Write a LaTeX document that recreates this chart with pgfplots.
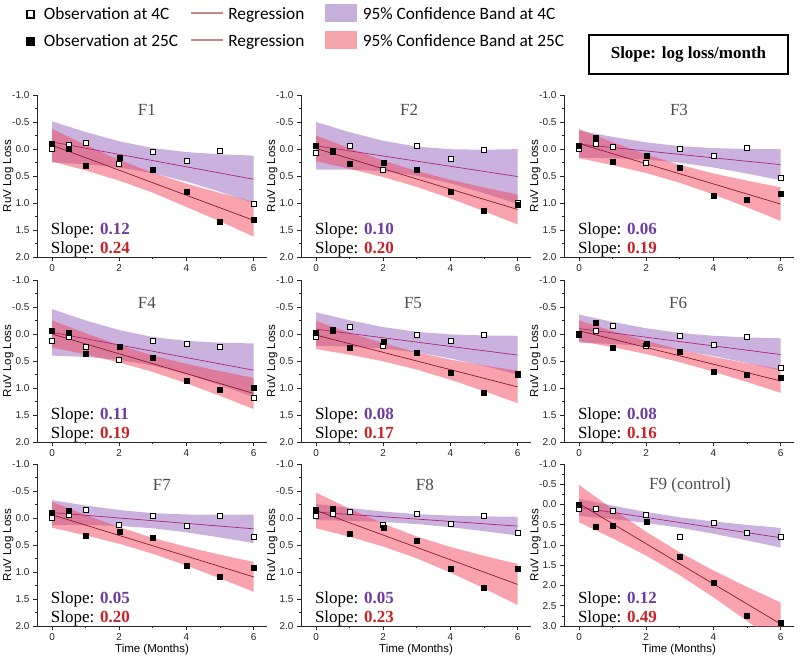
\documentclass[border=0pt]{standalone}
\usepackage{pgfplots}
\pgfplotsset{compat=1.18}
\usepackage{fontspec}
\setmainfont{Liberation Sans}
\newfontfamily\tnr{Liberation Serif}
\newfontfamily\leg{Carlito}
\definecolor{cband4}{RGB}{150,100,190}
\definecolor{cband25}{RGB}{240,70,90}
\definecolor{lband4}{RGB}{198,176,218}
\definecolor{lband25}{RGB}{246,164,172}
\definecolor{cline4}{RGB}{170,40,120}
\definecolor{cline25}{RGB}{140,25,40}
\definecolor{cs4}{RGB}{110,60,160}
\definecolor{cs25}{RGB}{200,35,40}
\definecolor{clegline}{RGB}{200,135,135}

\pgfplotsset{
panel/.style={
  scale only axis, width=230pt, height=162pt, anchor=center,
  xmin=-0.45, xmax=6.4, ymin=-1, ymax=2, y dir=reverse,
  axis x line*=bottom, axis y line*=left,
  xticklabel pos=upper,
  axis line style={-, black!85, line width=0.8pt},
  xtick={0,2,4,6}, minor xtick={1,3,5},
  ytick={-1,-0.5,0,0.5,1,1.5,2}, minor y tick num=1,
  tick align=outside, major tick length=4pt, minor tick length=2pt,
  tick style={black!85, line width=0.7pt},
  xticklabel={\pgfmathprintnumber[assume math mode=true]{\tick}},
  yticklabel={\pgfmathprintnumber[fixed,fixed zerofill,precision=1,assume math mode=true]{\tick}},
  ticklabel style={font=\fontsize{10}{12}\selectfont, text=black!85},
  ylabel={RuV Log Loss},
  ylabel style={at={(axis description cs:-0.124,0.5)}, anchor=center, font=\fontsize{11.5}{13}\selectfont},
  xlabel style={at={(axis description cs:0.5,-0.148)}, anchor=center, font=\fontsize{11.5}{13}\selectfont},
},
legsq4/.style={legend image code/.code={\path[draw=none,fill=none] (0pt,0pt) -- (18pt,0pt); \draw[draw=black, line width=1.9pt, fill=white] (0.95pt,-3.55pt) rectangle (8.05pt,3.55pt);}},
legsq25/.style={legend image code/.code={\path[draw=none,fill=none] (0pt,0pt) -- (18pt,0pt); \fill[fill=black, draw=none] (0pt,-4.5pt) rectangle (9pt,4.5pt);}},
legline/.style={legend image code/.code={\path[draw=none,fill=none] (0pt,0pt) -- (50.3pt,0pt); \path[fill=clegline, draw=none] (13.3pt,0.35pt) rectangle (45pt,1.65pt);}},
legrect4/.style={legend image code/.code={\path[draw=none,fill=none] (0pt,0pt) -- (58.5pt,0pt); \path[fill=lband4, draw=none] (20.5pt,-8pt) rectangle (52.5pt,10pt);}},
legrect25/.style={legend image code/.code={\path[draw=none,fill=none] (0pt,0pt) -- (58.5pt,0pt); \path[fill=lband25, draw=none] (20.5pt,-8pt) rectangle (52.5pt,10pt);}},
}

\newcommand{\panelplots}[6]{%
\addplot[fill=cband4, fill opacity=0.5, draw=none, forget plot] coordinates {#1};
\addplot[fill=cband25, fill opacity=0.5, draw=none, forget plot] coordinates {#2};
\addplot[cline4, line width=0.7pt, forget plot] coordinates {#3};
\addplot[cline25, line width=0.7pt, forget plot] coordinates {#4};
\addplot[only marks, mark=square*, mark size=2.5pt, mark options={fill=white, draw=black, line width=0.8pt}, forget plot] coordinates {#5};
\addplot[only marks, mark=square*, mark size=2.5pt, black, forget plot] coordinates {#6};
}
\newcommand{\slopes}[2]{%
\node[anchor=west, inner sep=0pt, font=\tnr\fontsize{17}{20}\selectfont] at (axis description cs:0.06,0.165) {Slope: \textbf{\color{cs4}#1}};
\node[anchor=west, inner sep=0pt, font=\tnr\fontsize{17}{20}\selectfont] at (axis description cs:0.06,0.045) {Slope: \textbf{\color{cs25}#2}};
}
\newcommand{\ptitle}[3]{%
\node[inner sep=0pt, text=black!70, font=\tnr\fontsize{17}{20}\selectfont] at (axis description cs:#1,#2) {#3};
}

\begin{document}
\begin{tikzpicture}
\path[use as bounding box] (0pt,0pt) rectangle (800pt,-658pt);
\coordinate (legpos) at (-11pt,91pt);

% F1
\begin{axis}[panel, at={(152pt,-176pt)},
  legend columns=3, legend cell align=left,
  legend style={at={(legpos)}, anchor=north west, draw=none, fill=none, inner sep=0pt, outer sep=0pt,
    nodes={inner sep=0pt, outer sep=0pt},
    font=\leg\fontsize{17.3}{20}\selectfont, row sep=9pt, column sep=0pt}]
\addlegendimage{legsq4}\addlegendentry{Observation at 4C}
\addlegendimage{legline}\addlegendentry{Regression}
\addlegendimage{legrect4}\addlegendentry{95\% Confidence Band at 4C}
\addlegendimage{legsq25}\addlegendentry{Observation at 25C}
\addlegendimage{legline}\addlegendentry{Regression}
\addlegendimage{legrect25}\addlegendentry{95\% Confidence Band at 25C}
\panelplots
{(0,-0.51) (1,-0.314) (2,-0.143) (3,-0.018) (4,0.057) (5,0.098) (6,0.122) (6,0.998) (5,0.792) (4,0.603) (3,0.448) (2,0.343) (1,0.284) (0,0.25)}
{(0,-0.37) (1,-0.074) (2,0.201) (3,0.441) (4,0.641) (5,0.814) (6,0.974) (6,1.62) (5,1.34) (4,1.073) (3,0.809) (2,0.585) (1,0.398) (0,0.23)}
{(0,-0.13) (6,0.56)}
{(0,-0.07) (6,1.32)}
{(0,0.00) (0.5,-0.08) (1,-0.12) (2,0.28) (3,0.05) (4,0.22) (5,0.04) (6,1.02)}
{(0,-0.09) (0.5,0.00) (1,0.30) (2,0.16) (3,0.39) (4,0.79) (5,1.34) (6,1.30)}
\ptitle{0.478}{0.907}{F1}
\slopes{0.12}{0.24}
\end{axis}

% F2
\begin{axis}[panel, at={(416pt,-176pt)}]
\panelplots
{(0,-0.50) (1,-0.311) (2,-0.151) (3,-0.045) (4,0.004) (5,0.013) (6,0.003) (6,1.017) (5,0.817) (4,0.636) (3,0.495) (2,0.411) (1,0.381) (0,0.38)}
{(0,-0.25) (1,-0.011) (2,0.214) (3,0.408) (4,0.570) (5,0.713) (6,0.844) (6,1.396) (5,1.151) (4,0.916) (3,0.702) (2,0.520) (1,0.367) (0,0.23)}
{(0,-0.06) (6,0.51)}
{(0,-0.01) (6,1.12)}
{(0,0.08) (0.5,0.03) (1,-0.06) (2,0.38) (3,-0.05) (4,0.19) (5,0.02) (6,0.99)}
{(0,-0.07) (0.5,0.05) (1,0.27) (2,0.25) (3,0.39) (4,0.79) (5,1.14) (6,1.04)}
\ptitle{0.47}{0.907}{F2}
\slopes{0.10}{0.20}
\end{axis}

% F3
\begin{axis}[panel, at={(679pt,-176pt)}]
\panelplots
{(0,-0.34) (1,-0.224) (2,-0.123) (3,-0.053) (4,-0.017) (5,-0.001) (6,0.002) (6,0.578) (5,0.455) (4,0.343) (3,0.253) (2,0.197) (1,0.170) (0,0.16)}
{(0,-0.37) (1,-0.125) (2,0.100) (3,0.294) (4,0.453) (5,0.586) (6,0.709) (6,1.331) (5,1.080) (4,0.841) (3,0.626) (2,0.446) (1,0.299) (0,0.17)}
{(0,-0.09) (6,0.29)}
{(0,-0.10) (6,1.02)}
{(0,0.00) (0.5,-0.09) (1,-0.03) (2,0.25) (3,0.00) (4,0.13) (5,-0.02) (6,0.53)}
{(0,-0.07) (0.5,-0.21) (1,0.23) (2,0.12) (3,0.35) (4,0.86) (5,0.94) (6,0.82)}
\ptitle{0.50}{0.907}{F3}
\slopes{0.06}{0.19}
\end{axis}

% F4
\begin{axis}[panel, at={(152pt,-361pt)}]
\panelplots
{(0,-0.46) (1,-0.251) (2,-0.072) (3,0.056) (4,0.128) (5,0.160) (6,0.175) (6,1.165) (5,0.946) (4,0.746) (3,0.584) (2,0.478) (1,0.425) (0,0.40)}
{(0,-0.25) (1,-0.014) (2,0.207) (3,0.397) (4,0.553) (5,0.689) (6,0.812) (6,1.388) (5,1.145) (4,0.913) (3,0.703) (2,0.527) (1,0.380) (0,0.25)}
{(0,-0.03) (6,0.67)}
{(0,0.00) (6,1.10)}
{(0,0.12) (0.5,0.06) (1,0.24) (2,0.48) (3,0.13) (4,0.18) (5,0.23) (6,1.18)}
{(0,-0.07) (0.5,-0.02) (1,0.37) (2,0.23) (3,0.44) (4,0.86) (5,1.03) (6,0.99)}
\ptitle{0.478}{0.86}{F4}
\slopes{0.11}{0.19}
\end{axis}

% F5
\begin{axis}[panel, at={(416pt,-361pt)}]
\panelplots
{(0,-0.40) (1,-0.254) (2,-0.128) (3,-0.040) (4,0.007) (5,0.027) (6,0.033) (6,0.747) (5,0.593) (4,0.453) (3,0.340) (2,0.268) (1,0.234) (0,0.22)}
{(0,-0.24) (1,-0.024) (2,0.174) (3,0.341) (4,0.473) (5,0.583) (6,0.680) (6,1.280) (5,1.057) (4,0.847) (3,0.659) (2,0.506) (1,0.384) (0,0.28)}
{(0,-0.09) (6,0.39)}
{(0,0.02) (6,0.98)}
{(0,0.05) (0.5,-0.06) (1,-0.13) (2,0.22) (3,0.02) (4,0.13) (5,0.02) (6,0.73)}
{(0,-0.02) (0.5,-0.08) (1,0.25) (2,0.15) (3,0.34) (4,0.72) (5,1.08) (6,0.76)}
\ptitle{0.487}{0.86}{F5}
\slopes{0.08}{0.17}
\end{axis}

% F6
\begin{axis}[panel, at={(679pt,-361pt)}]
\panelplots
{(0,-0.36) (1,-0.224) (2,-0.106) (3,-0.019) (4,0.033) (5,0.063) (6,0.080) (6,0.680) (5,0.537) (4,0.407) (3,0.299) (2,0.226) (1,0.184) (0,0.16)}
{(0,-0.25) (1,-0.054) (2,0.129) (3,0.289) (4,0.423) (5,0.542) (6,0.651) (6,1.089) (5,0.888) (4,0.697) (3,0.521) (2,0.371) (1,0.244) (0,0.13)}
{(0,-0.10) (6,0.38)}
{(0,-0.06) (6,0.87)}
{(0,0.00) (0.5,-0.06) (1,-0.15) (2,0.22) (3,0.03) (4,0.21) (5,0.06) (6,0.63)}
{(0,0.01) (0.5,-0.21) (1,0.25) (2,0.18) (3,0.33) (4,0.69) (5,0.76) (6,0.80)}
\ptitle{0.496}{0.86}{F6}
\slopes{0.08}{0.16}
\end{axis}

% F7
\begin{axis}[panel, at={(152pt,-545pt)}, xlabel={Time (Months)}]
\panelplots
{(0,-0.33) (1,-0.231) (2,-0.147) (3,-0.091) (4,-0.065) (5,-0.060) (6,-0.065) (6,0.465) (5,0.360) (4,0.265) (3,0.191) (2,0.147) (1,0.131) (0,0.13)}
{(0,-0.30) (1,-0.057) (2,0.170) (3,0.368) (4,0.534) (5,0.679) (6,0.814) (6,1.366) (5,1.117) (4,0.880) (3,0.662) (2,0.476) (1,0.321) (0,0.18)}
{(0,-0.10) (6,0.20)}
{(0,-0.06) (6,1.09)}
{(0,-0.01) (0.5,-0.05) (1,-0.15) (2,0.12) (3,-0.04) (4,0.15) (5,-0.04) (6,0.35)}
{(0,-0.09) (0.5,-0.13) (1,0.33) (2,0.26) (3,0.37) (4,0.88) (5,1.09) (6,0.92)}
\ptitle{0.543}{0.868}{F7}
\slopes{0.05}{0.20}
\end{axis}

% F8
\begin{axis}[panel, at={(416pt,-545pt)}, xlabel={Time (Months)}]
\panelplots
{(0,-0.26) (1,-0.185) (2,-0.119) (3,-0.072) (4,-0.045) (5,-0.030) (6,-0.023) (6,0.323) (5,0.244) (4,0.171) (3,0.112) (2,0.073) (1,0.051) (0,0.04)}
{(0,-0.47) (1,-0.171) (2,0.106) (3,0.343) (4,0.536) (5,0.701) (6,0.850) (6,1.610) (5,1.303) (4,1.010) (3,0.747) (2,0.528) (1,0.347) (0,0.19)}
{(0,-0.11) (6,0.15)}
{(0,-0.14) (6,1.23)}
{(0,-0.04) (0.5,-0.07) (1,-0.11) (2,0.13) (3,-0.07) (4,0.10) (5,-0.04) (6,0.27)}
{(0,-0.15) (0.5,-0.18) (1,0.29) (2,0.18) (3,0.42) (4,0.94) (5,1.29) (6,0.93)}
\ptitle{0.539}{0.868}{F8}
\slopes{0.05}{0.23}
\end{axis}

% F9
\begin{axis}[panel, at={(679pt,-545pt)}, xlabel={Time (Months)}, ymax=3,
  ytick={-1,-0.5,0,0.5,1,1.5,2,2.5,3}]
\panelplots
{(0,-0.14) (1,0.030) (2,0.186) (3,0.316) (4,0.419) (5,0.503) (6,0.578) (6,1.062) (5,0.887) (4,0.721) (3,0.574) (2,0.454) (1,0.360) (0,0.28)}
{(0,-0.48) (1,0.113) (2,0.676) (3,1.183) (4,1.629) (5,2.035) (6,2.420) (6,3.480) (5,2.875) (4,2.291) (3,1.747) (2,1.264) (1,0.837) (0,0.44)}
{(0,0.07) (6,0.82)}
{(0,-0.02) (6,2.95)}
{(0,0.12) (0.5,0.10) (1,0.17) (2,0.26) (3,0.81) (4,0.45) (5,0.70) (6,0.80)}
{(0,0.00) (0.5,0.56) (1,0.53) (2,0.42) (3,1.28) (4,1.93) (5,2.74) (6,2.91)}
\ptitle{0.548}{0.868}{F9 (control)}
\slopes{0.12}{0.49}
\end{axis}

\node[draw=black, line width=1.5pt, minimum width=199pt, minimum height=39pt, inner sep=0pt,
  font=\tnr\bfseries\fontsize{17}{20}\selectfont] at (688.5pt,-54.5pt) {Slope: log loss/month};
\end{tikzpicture}
\end{document}
